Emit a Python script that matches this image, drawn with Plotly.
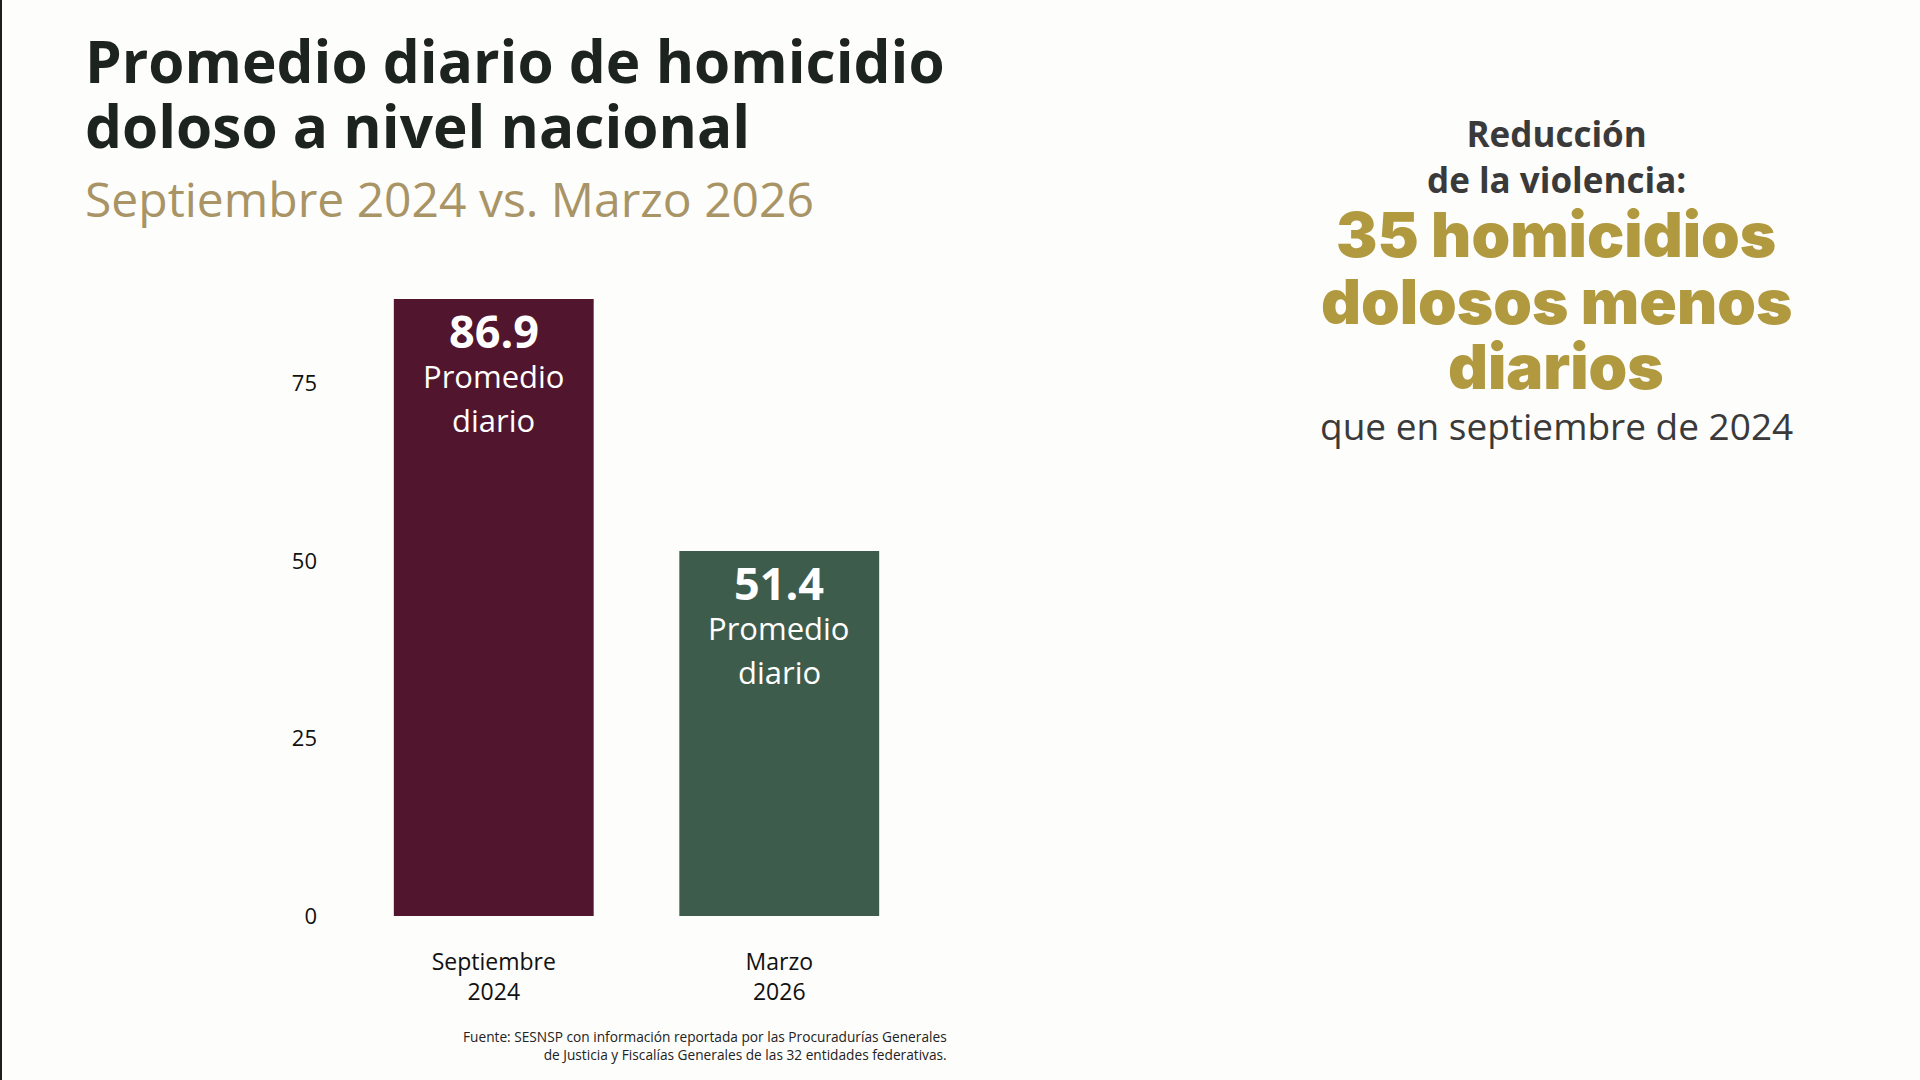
import plotly.graph_objects as go

# ---- data ----
categories = ["Septiembre<br>2024", "Marzo<br>2026"]
values = [86.9, 51.4]
bar_colors = ["#52152e", "#3e5c4b"]
y_ticks = [0, 25, 50, 75]
bar_sublabel = ["Promedio", "diario"]

title_lines = ["Promedio diario de homicidio", "doloso a nivel nacional"]
subtitle = "Septiembre 2024 vs. Marzo 2026"
side_head = "Reducción<br>de la violencia:"
side_big = ["35 homicidios", "dolosos menos", "diarios"]
side_tail = "que en septiembre de 2024"
source = ("Fuente: SESNSP con información reportada por las Procuradurías Generales<br>"
          "de Justicia y Fiscalías Generales de las 32 entidades federativas.")

# ---- layout geometry (pixels) ----
FW, FH = 1920, 1080
L, R, T, B = 351, 998, 277, 164
PW, PH = FW - L - R, FH - T - B


def px(x):
    return (x - L) / PW


def py(y):
    return (FH - B - y) / PH


FONT = "Open Sans"
BG = "#fdfdfb"

fig = go.Figure(
    go.Bar(
        x=categories,
        y=values,
        marker=dict(color=bar_colors, line=dict(width=0)),
        hoverinfo="skip",
    )
)

annotations = []
# title
for line, yc in zip(title_lines, [60, 125]):
    annotations.append(dict(
        text=f"<b>{line}</b>", xref="paper", yref="paper",
        x=px(83), y=py(yc), xanchor="left", yanchor="middle",
        showarrow=False, font=dict(family=FONT, size=58.5, color="#1d2420"),
    ))
annotations.append(dict(
    text=subtitle, xref="paper", yref="paper",
    x=px(83), y=py(198), xanchor="left", yanchor="middle",
    showarrow=False, font=dict(family=FONT, size=48, color="#a99466"),
))

# side text
CX = 1556
annotations.append(dict(
    text=f"<b>{side_head}</b>", xref="paper", yref="paper",
    x=px(CX), y=py(157), xanchor="center", yanchor="middle", align="center",
    showarrow=False, font=dict(family=FONT, size=35, color="#3a3a3a"),
))
for line, yc in zip(side_big, [235, 301, 366]):
    annotations.append(dict(
        text=line, xref="paper", yref="paper",
        x=px(CX), y=py(yc), xanchor="center", yanchor="middle",
        showarrow=False,
        font=dict(family="Inter", size=62, color="#b1993f", weight=900),
    ))
annotations.append(dict(
    text=side_tail, xref="paper", yref="paper",
    x=px(CX), y=py(425), xanchor="center", yanchor="middle",
    showarrow=False, font=dict(family=FONT, size=37, color="#3a3a3a"),
))

# bar labels
for cat, v in zip(categories, values):
    annotations.append(dict(
        text=f"<b>{v}</b>", xref="x", yref="y", x=cat, y=v,
        xanchor="center", yanchor="top", yshift=1, showarrow=False,
        font=dict(family=FONT, size=45, color="#ffffff"),
    ))
    for j, word in enumerate(bar_sublabel):
        annotations.append(dict(
            text=word, xref="x", yref="y", x=cat, y=v,
            xanchor="center", yanchor="top", yshift=-54 - 44 * j,
            showarrow=False,
            font=dict(family=FONT, size=31, color="#ffffff"),
        ))

# source
annotations.append(dict(
    text=source, xref="paper", yref="paper",
    x=px(949), y=py(1045), xanchor="right", yanchor="middle", align="right",
    showarrow=False, font=dict(family=FONT, size=13.7, color="#222222"),
))

fig.update_layout(
    width=FW, height=FH,
    margin=dict(l=L, r=R, t=T, b=B, pad=0),
    paper_bgcolor=BG, plot_bgcolor=BG,
    showlegend=False,
    bargap=0.3,
    font=dict(family=FONT, color="#1a1a1a"),
    annotations=annotations,
    shapes=[dict(type="line", xref="paper", yref="paper",
                 x0=px(1), x1=px(1), y0=py(0), y1=py(FH),
                 line=dict(color="#1e1e1e", width=2))],
)
fig.update_xaxes(
    range=[-0.5, 1.5], showgrid=False, zeroline=False, showline=False,
    ticks="", tickfont=dict(family=FONT, size=23, color="#111111"),
    ticklabelstandoff=30,
)
fig.update_yaxes(
    range=[0, 90], tickvals=y_ticks, showgrid=False, zeroline=False,
    showline=False, ticks="", tickfont=dict(family=FONT, size=22, color="#111111"),
    ticklabelstandoff=33,
)

fig.write_html("out.html")
